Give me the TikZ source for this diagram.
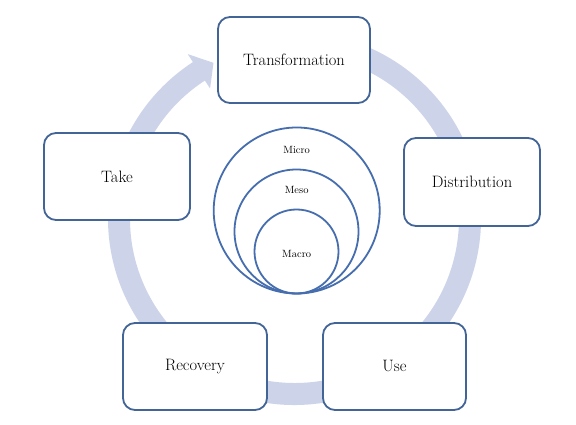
\documentclass[tikz,border=0pt]{standalone}
\usetikzlibrary{calc}
\definecolor{boxc}{RGB}{66,100,150}
\definecolor{circc}{RGB}{70,110,175}
\definecolor{ringc}{RGB}{205,212,234}
\tikzset{
  stagebox/.style={draw=boxc, line width=1.8pt, fill=white, rounded corners=12pt,
    inner sep=0pt, font=\fontsize{16.5}{19}\selectfont},
  levelcirc/.style={draw=circc, line width=1.8pt, circle, inner sep=0pt},
  levellabel/.style={font=\fontsize{10.5}{12}\selectfont, inner sep=0pt}
}
\begin{document}
\begin{tikzpicture}[x=1pt,y=1pt]
\useasboundingbox (0,0) rectangle (576,425);
\fill[white] (0,0) rectangle (576,425);
% cycle ring with arrowhead
\coordinate (C) at (294.5,206.5);
\fill[ringc] ($(C)+(100:186.5pt)$) arc[start angle=100, end angle=-237, radius=186.5pt]
  -- ($(C)+(-237:196pt)$) -- ($(C)+(117.5:175.5pt)$) -- ($(C)+(-237:155pt)$)
  -- ($(C)+(-237:164.5pt)$) arc[start angle=-237, end angle=100, radius=164.5pt] -- cycle;
% stage boxes
\node[stagebox, minimum width=152pt, minimum height=86pt] (transf) at (294,365) {Transformation};
\node[stagebox, minimum width=146pt, minimum height=87pt] (take) at (117,248.5) {Take};
\node[stagebox, minimum width=136pt, minimum height=88pt] (distr) at (472,243) {Distribution};
\node[stagebox, minimum width=144pt, minimum height=87pt] (recov) at (195,58.5) {Recovery};
\node[stagebox, minimum width=143pt, minimum height=87pt] (use) at (394.5,58.5) {Use};
% nested circles
\node[levelcirc, minimum size=166pt] (micro) at (296.7,214.5) {};
\node[levelcirc, minimum size=124pt] (meso) at (296.5,193.5) {};
\node[levelcirc, minimum size=84pt] (macro) at (296.5,173.5) {};
\node[levellabel] (microl) at (296.7,275) {Micro};
\node[levellabel] (mesol) at (296.7,235) {Meso};
\node[levellabel] (macrol) at (296.7,171) {Macro};
\end{tikzpicture}
\end{document}
